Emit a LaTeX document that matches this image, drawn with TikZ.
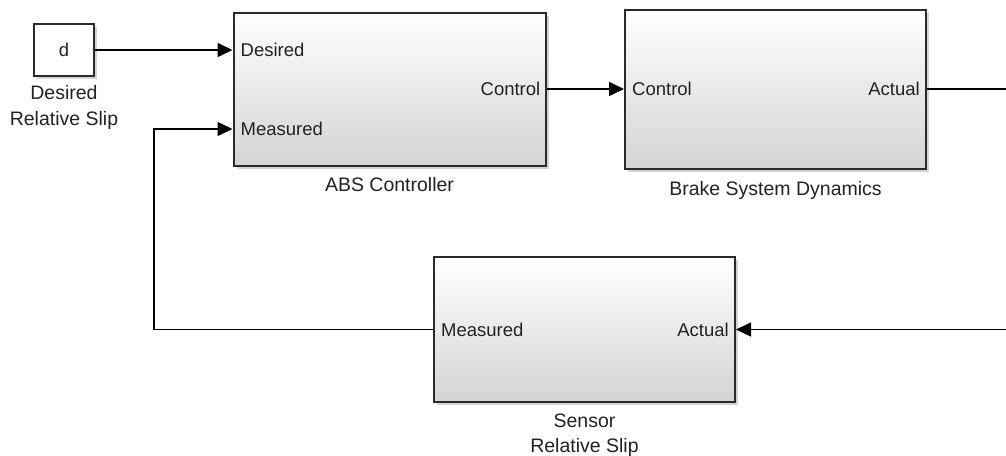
\documentclass[tikz,border=0pt]{standalone}
\usepackage{fontspec}
\setmainfont{Liberation Sans}
\usetikzlibrary{arrows.meta,shadows}
\definecolor{txt}{HTML}{222222}
\definecolor{edge}{HTML}{2a2a2a}
\begin{document}
\begin{tikzpicture}[x=1pt,y=-1pt,
  blk/.style={draw=edge,line width=2pt,top color=white,bottom color=black!17,
    drop shadow={shadow xshift=3pt,shadow yshift=-3pt,opacity=0.35},inner sep=0pt},
  cblk/.style={draw=edge,line width=2pt,fill=white,
    drop shadow={shadow xshift=2.5pt,shadow yshift=-2.5pt,opacity=0.35},inner sep=0pt,
    font=\fontsize{18.5}{20}\selectfont,text=txt},
  port/.style={inner sep=0pt,font=\fontsize{18.5}{20}\selectfont,text=txt},
  lbl/.style={inner sep=0pt,font=\fontsize{19.5}{22}\selectfont,text=txt,anchor=base},
  wire/.style={line width=1.6pt,black},
  arr/.style={wire,-{Triangle[length=15pt,width=14pt]}}]
\useasboundingbox (0,0) rectangle (1006,455);

% blocks
\node[cblk,minimum width=60pt,minimum height=52pt] (d) at (64,50) {d};
\node[blk,minimum width=312pt,minimum height=153pt] (abs) at (389.5,89) {};
\node[blk,minimum width=301pt,minimum height=159pt] (brake) at (775.5,89) {};
\node[blk,minimum width=301pt,minimum height=145pt] (sensor) at (584.5,329.5) {};

% block labels
\node[lbl] (dl1) at (64,99) {Desired};
\node[lbl] (dl2) at (64,125) {Relative Slip};
\node[lbl] (absl) at (389.5,191) {ABS Controller};
\node[lbl] (brl) at (775.5,195) {Brake System Dynamics};
\node[lbl] (sl1) at (584.5,427) {Sensor};
\node[lbl] (sl2) at (584.5,452) {Relative Slip};

% port labels
\node[port,anchor=west] (pdes) at ([xshift=8pt]abs.west |- 0,50) {Desired};
\node[port,anchor=west] (pmeas) at ([xshift=8pt]abs.west |- 0,129) {Measured};
\node[port,anchor=east] (pctl) at ([xshift=-6pt]abs.east) {Control};
\node[port,anchor=west] (bctl) at ([xshift=8pt]brake.west) {Control};
\node[port,anchor=east] (bact) at ([xshift=-7pt]brake.east) {Actual};
\node[port,anchor=west] (smeas) at ([xshift=8pt]sensor.west) {Measured};
\node[port,anchor=east] (sact) at ([xshift=-7pt]sensor.east) {Actual};

% connectors
\coordinate (fb) at (154,129);
\coordinate (r1) at (1006,89);
\coordinate (r2) at (1006,329.5);
\draw[arr] (d.east) -- (d.east -| abs.west);
\draw[arr] (abs.east) -- (abs.east -| brake.west);
\draw[wire] (brake.east) -- (r1);
\draw[arr] (r2) -- (sensor.east);
\draw[arr] (sensor.west) -| (fb) -- (fb -| abs.west);
\end{tikzpicture}
\end{document}
